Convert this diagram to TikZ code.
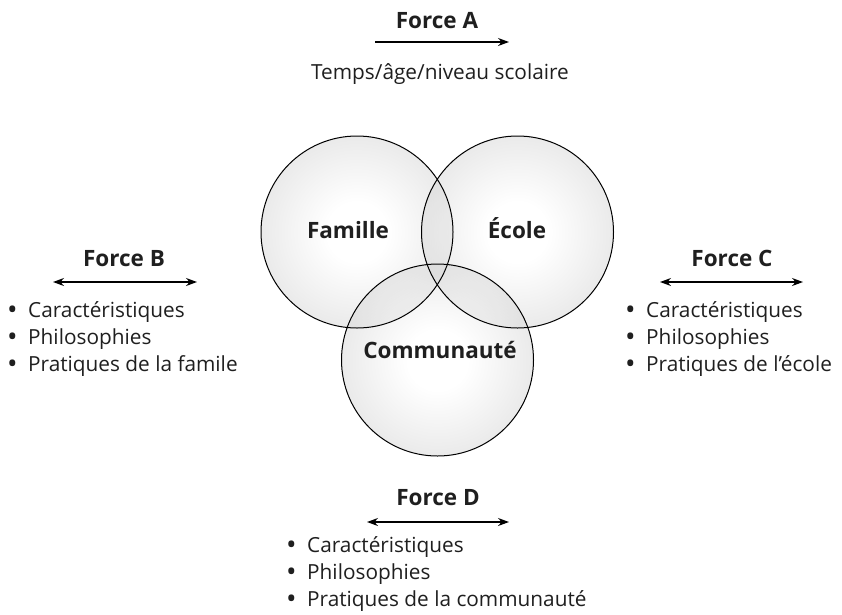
\documentclass[tikz,border=0pt]{standalone}
\usepackage{fontspec}
\setmainfont{Open Sans}
\usetikzlibrary{arrows.meta}
\definecolor{vedge}{gray}{0.60}
\definecolor{ink}{gray}{0.12}
\pgfdeclareradialshading{vennshade}{\pgfpoint{0bp}{0bp}}{color(0bp)=(white); color(8bp)=(white); color(50bp)=(vedge); color(100bp)=(vedge)}
\newcommand{\blt}{\makebox[21pt][l]{\fontsize{28}{28}\selectfont\raisebox{-2.5pt}{•}}}
\begin{document}
\begin{tikzpicture}[x=1pt,y=-1pt,
  ttl/.style={font=\fontsize{22.5}{26}\selectfont\bfseries, text=ink, inner sep=0, anchor=base},
  txt/.style={font=\fontsize{20.8}{24}\selectfont, text=ink, inner sep=0, anchor=base west},
  ctr/.style={font=\fontsize{20.8}{24}\selectfont, text=ink, inner sep=0, anchor=base},
  force/.style={line width=1.2pt, {Stealth[length=11pt,width=8pt]}-{Stealth[length=11pt,width=8pt]}},
  vset/.style={circle, minimum size=192pt, inner sep=0, shading=vennshade, fill opacity=0.5},
  ring/.style={line width=1pt}]
\useasboundingbox (0,0) rectangle (842,614);
% circles
\node[vset] (fam) at (357,232) {};
\node[vset] (eco) at (517.5,232) {};
\node[vset] (com) at (437.5,360) {};
\draw[ring] (fam.center) circle[radius=96];
\draw[ring] (eco.center) circle[radius=96];
\draw[ring] (com.center) circle[radius=96];
\node[ttl] (tfam) at (348,238) {Famille};
\node[ttl] (teco) at (517,238) {École};
\node[ttl] (tcom) at (440,358) {Communauté};
% Force A
\node[ttl] (fa) at (437,28) {Force A};
\coordinate (aL) at (375,42);
\coordinate (aR) at (509,42);
\draw[line width=1.2pt, -{Stealth[length=11pt,width=8pt]}] (aL) -- (aR);
\node[ctr] (tmp) at (440,79) {Temps/âge/niveau scolaire};
% Force B
\node[ttl] (fb) at (124,266) {Force B};
\coordinate (bL) at (53,282);
\coordinate (bR) at (197,282);
\draw[force] (bL) -- (bR);
\node[txt] (b1) at (7,317) {\blt Caractéristiques};
\node[txt] (b2) at (7,344) {\blt Philosophies};
\node[txt] (b3) at (7,371) {\blt Pratiques de la famile};
% Force C
\node[ttl] (fc) at (732,266) {Force C};
\coordinate (cL) at (660,282);
\coordinate (cR) at (803,282);
\draw[force] (cL) -- (cR);
\node[txt] (c1) at (625,317) {\blt Caractéristiques};
\node[txt] (c2) at (625,344) {\blt Philosophies};
\node[txt] (c3) at (625,371) {\blt Pratiques de l’école};
% Force D
\node[ttl] (fd) at (438,505) {Force D};
\coordinate (dL) at (367,522);
\coordinate (dR) at (509,522);
\draw[force] (dL) -- (dR);
\node[txt] (d1) at (286,552) {\blt Caractéristiques};
\node[txt] (d2) at (286,579) {\blt Philosophies};
\node[txt] (d3) at (286,606) {\blt Pratiques de la communauté};
\end{tikzpicture}
\end{document}
